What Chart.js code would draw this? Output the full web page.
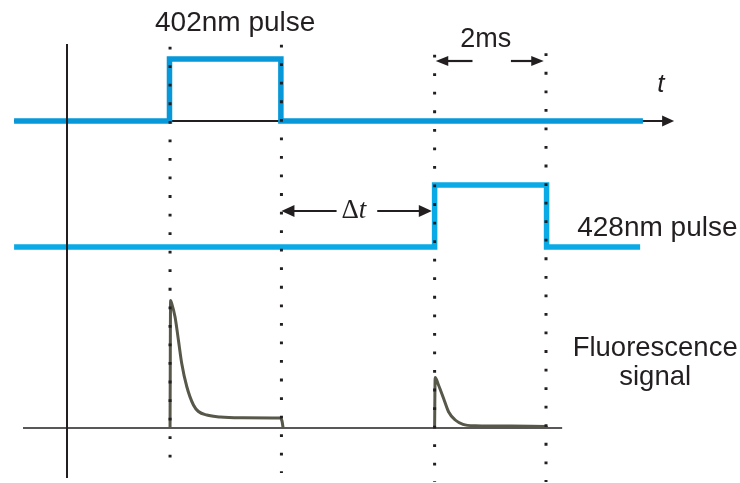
<!DOCTYPE html>
<html>
<head>
<meta charset="utf-8">
<script src="https://cdn.jsdelivr.net/npm/chart.js@4/dist/chart.umd.min.js"></script>
<style>
  html, body { margin: 0; padding: 0; background: #ffffff; }
  canvas { display: block; }
</style>
</head>
<body>
<canvas id="timing" width="740" height="483"></canvas>
<script>
// Time base in ms, signal levels in arbitrary units.
const pulse402Times  = [-0.95, 1.84, 1.84, 3.84, 3.84, 10.34];
const pulse402Levels = [0, 0, 1, 1, 0, 0];
const pulse428Times  = [-0.95, 6.60, 6.60, 8.61, 8.61, 10.29];
const pulse428Levels = [0, 0, 1, 1, 0, 0];

// Fluorescence after each pulse
const fluor1Times  = [1.85, 1.86, 1.88, 1.94, 2.00, 2.06, 2.15, 2.27, 2.36, 2.51, 2.75, 3.11, 3.82, 3.86, 3.88];
const fluor1Values = [0, 12.75, 12.45, 11.1, 8.8, 6.45, 4.15, 2.3, 1.65, 1.3, 1.1, 1.03, 1.0, 0.7, 0];
const fluor2Times  = [6.60, 6.61, 6.67, 6.76, 6.85, 6.97, 7.11, 7.33, 7.95, 8.60, 8.62];
const fluor2Values = [0, 5.05, 4.3, 2.97, 1.63, 0.8, 0.37, 0.23, 0.2, 0.15, 0];

// Pulse edges marked by dotted guides
const edgeTimes = [1.85, 3.85, 6.60, 8.60];
const pulseWidthLabel = '2ms';
const delayLabel = 't';

// Layout of the three traces (levels in signal units)
const row402 = 36.2, row428 = 23.6, rowFluor = 5.5, pulseHeight = 6.2;
const guideTop = [43.63, 43.83, 42.83, 42.97];
const guideBottom = [1.0, 1.0, 0.1, 0.1];

const INK = '#231f20';
const BLUE_A = '#0698d8';
const BLUE_B = '#0aaae6';
const TRACE = '#57574a';
const SANS = '"Liberation Sans", Arial, sans-serif';
const SERIF = '"Liberation Serif", "Times New Roman", serif';

const toPts = (ts, vs, base, scale) => ts.map((t, i) => ({ x: t, y: base + vs[i] * scale }));

const datasets = [];

// dotted guides (drawn on top)
edgeTimes.forEach((t, i) => {
  datasets.push({
    data: [{ x: t, y: guideTop[i] }, { x: t, y: guideBottom[i] }],
    borderColor: INK, borderWidth: 3, borderDash: [2.8, 15.75],
    borderCapStyle: 'butt', pointRadius: 0, order: 0
  });
});
// vertical axis
datasets.push({
  data: [{ x: 0, y: 43.9 }, { x: 0, y: 0.5 }],
  borderColor: INK, borderWidth: 2, pointRadius: 0, order: 1
});
// pulses
datasets.push({
  data: toPts(pulse402Times, pulse402Levels, row402, pulseHeight),
  borderColor: BLUE_A, borderWidth: 5.5, borderJoinStyle: 'miter', borderCapStyle: 'butt',
  pointRadius: 0, order: 2
});
datasets.push({
  data: toPts(pulse428Times, pulse428Levels, row428, pulseHeight),
  borderColor: BLUE_B, borderWidth: 5.5, borderJoinStyle: 'miter', borderCapStyle: 'butt',
  pointRadius: 0, order: 2
});
// fluorescence
[[fluor1Times, fluor1Values], [fluor2Times, fluor2Values]].forEach(([ts, vs]) => {
  datasets.push({
    data: toPts(ts, vs, rowFluor, 1),
    borderColor: TRACE, borderWidth: 3, cubicInterpolationMode: 'monotone',
    borderJoinStyle: 'round', pointRadius: 0, order: 2
  });
});
// time axis and fluorescence baseline (beneath the traces)
datasets.push({
  data: [{ x: -0.95, y: row402 }, { x: 10.75, y: row402 }],
  borderColor: INK, borderWidth: 1.8, pointRadius: 0, order: 3
});
datasets.push({
  data: [{ x: -0.79, y: rowFluor }, { x: 8.89, y: rowFluor }],
  borderColor: INK, borderWidth: 1.5, pointRadius: 0, order: 3
});

const texts = [
  { text: '402nm pulse', t: 3.02, v: 45.2, align: 'center', font: '28px ' + SANS },
  { text: pulseWidthLabel, t: 7.52, v: 43.6, align: 'center', font: '27px ' + SANS },
  { text: 't', t: 10.66, v: 39.1, align: 'center', font: 'italic 26px ' + SANS },
  { text: '428nm pulse', t: 9.16, v: 24.7, align: 'left', font: '28px ' + SANS },
  { text: 'Fluorescence', t: 10.56, v: 12.7, align: 'center', font: '27.5px ' + SANS },
  { text: 'signal', t: 10.56, v: 9.8, align: 'center', font: '27.5px ' + SANS }
];

const overlay = {
  id: 'overlay',
  afterDatasetsDraw(chart) {
    const { ctx, scales: { x, y } } = chart;
    const X = v => x.getPixelForValue(v);
    const Y = v => y.getPixelForValue(v);
    ctx.save();
    ctx.fillStyle = INK;
    ctx.strokeStyle = INK;

    const head = (tx, ty, dir, len, half) => {
      ctx.beginPath();
      ctx.moveTo(tx, ty);
      ctx.lineTo(tx - dir * len, ty - half);
      ctx.lineTo(tx - dir * len, ty + half);
      ctx.closePath();
      ctx.fill();
    };
    const arrow = (t0, t1, v, len, half) => {
      const x0 = X(t0), x1 = X(t1), yy = Y(v);
      const dir = x1 > x0 ? 1 : -1;
      ctx.lineWidth = 2.2;
      ctx.beginPath();
      ctx.moveTo(x0, yy);
      ctx.lineTo(x1 - dir * len * 0.6, yy);
      ctx.stroke();
      head(x1, yy, dir, len, half);
    };

    // time axis arrowhead
    head(X(10.9), Y(row402), 1, 12, 5.5);

    // delay between pulses
    const dv = 27.2;
    arrow(4.84, edgeTimes[1], dv, 13, 6);
    arrow(5.57, edgeTimes[2] - 0.05, dv, 13, 6);
    // pulse width
    const wv = 42.2;
    arrow(7.28, edgeTimes[2] + 0.02, wv, 12.5, 5);
    arrow(7.97, edgeTimes[3] - 0.04, wv, 12.5, 5);

    ctx.textBaseline = 'alphabetic';
    texts.forEach(o => {
      ctx.font = o.font;
      ctx.textAlign = o.align;
      ctx.fillText(o.text, X(o.t), Y(o.v));
    });

    // delay label: upright Delta, italic t
    const cx = X(5.15), by = Y(26.5);
    ctx.textAlign = 'left';
    ctx.font = '27px ' + SERIF;
    const dw = ctx.measureText('\u0394').width;
    ctx.font = 'italic 27px ' + SERIF;
    const tw = ctx.measureText(delayLabel).width;
    const left = cx - (dw + tw) / 2;
    ctx.font = '27px ' + SERIF;
    ctx.fillText('\u0394', left, by);
    ctx.font = 'italic 27px ' + SERIF;
    ctx.fillText(delayLabel, left + dw, by);

    ctx.restore();
  }
};

new Chart(document.getElementById('timing'), {
  type: 'line',
  data: { datasets },
  options: {
    responsive: false,
    devicePixelRatio: 1,
    animation: false,
    layout: { padding: 0 },
    plugins: { legend: { display: false }, tooltip: { enabled: false } },
    scales: {
      x: { type: 'linear', display: false, min: -1.203, max: 12.083 },
      y: { type: 'linear', display: false, min: 0, max: 48.3 }
    }
  },
  plugins: [overlay]
});
</script>
</body>
</html>
